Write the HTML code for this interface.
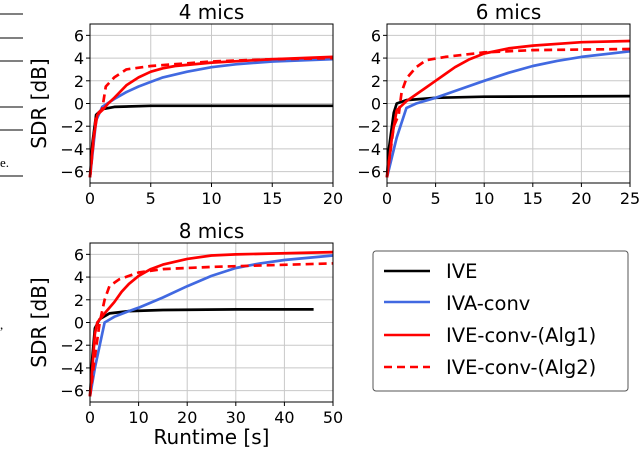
<!DOCTYPE html>
<html><head><meta charset="utf-8"><style>
html,body{margin:0;padding:0;background:#fff;width:640px;height:450px;overflow:hidden}
svg{font-family:"DejaVu Sans","Liberation Sans",sans-serif}
</style></head><body>
<svg id="fig" width="640" height="450" viewBox="0 0 640 450">
<g stroke="#000" stroke-width="1">
<line x1="0" y1="14" x2="23" y2="14"/><line x1="0" y1="38" x2="23" y2="38"/><line x1="0" y1="61" x2="23" y2="61"/>
<line x1="0" y1="107" x2="23" y2="107"/><line x1="0" y1="130" x2="23" y2="130"/><line x1="0" y1="176" x2="23" y2="176"/>
</g>
<text x="0" y="167" font-family="Liberation Serif,serif" font-size="13">e.</text>
<text x="0" y="329" font-family="Liberation Serif,serif" font-size="13">,</text>
<g id="plots"></g>
<g>
<rect x="373" y="251" width="255" height="140" rx="3" fill="#fff" stroke="#555" stroke-width="1"/>
<line x1="384" y1="271" x2="430" y2="271" stroke="#000" stroke-width="2.5"/>
<text x="446" y="278" font-size="19.5">IVE</text>
<line x1="384" y1="302" x2="430" y2="302" stroke="#4169e1" stroke-width="2.5"/>
<text x="446" y="310" font-size="19.5">IVA-conv</text>
<line x1="384" y1="335" x2="430" y2="335" stroke="#ff0000" stroke-width="2.5"/>
<text x="446" y="342" font-size="19.5">IVE-conv-(Alg1)</text>
<line x1="384" y1="367" x2="430" y2="367" stroke="#ff0000" stroke-width="2.5" stroke-dasharray="8,5"/>
<text x="446" y="374" font-size="19.5">IVE-conv-(Alg2)</text>
</g>
</svg>
<script>
const titles = ["4 mics", "6 mics", "8 mics"];
const xMaxes = [20, 25, 50];
const xTicks1 = [0, 5, 10, 15, 20];
const xTicks2 = [0, 5, 10, 15, 20, 25];
const xTicks3 = [0, 10, 20, 30, 40, 50];
const yTicks = [-6, -4, -2, 0, 2, 4, 6];
const seriesNames = ["IVE", "IVA-conv", "IVE-conv-(Alg1)", "IVE-conv-(Alg2)"];
const p1IVE = [[0,-6.5],[0.2,-3.5],[0.5,-1],[1,-0.5],[2,-0.3],[5,-0.2],[20,-0.2]];
const p1IVA = [[0,-6.5],[0.5,-1.5],[1,-0.3],[2,0.4],[3,1.0],[4,1.5],[5,1.9],[6,2.3],[8,2.8],[10,3.2],[12,3.45],[15,3.7],[20,3.9]];
const p1Alg1 = [[0,-6.5],[0.3,-3],[0.6,-1],[1,-0.6],[1.5,0],[2,0.5],[3,1.6],[4,2.3],[5,2.8],[6,3.1],[7,3.3],[10,3.6],[15,3.9],[20,4.1]];
const p1Alg2 = [[0,-6.5],[0.5,-1],[1,-0.5],[1.3,1.5],[2,2.3],[3,3.0],[5,3.3],[10,3.7],[15,3.9],[20,4.0]];
const p2IVE = [[0,-6.5],[0.2,-4],[0.7,-0.8],[1,0],[2,0.3],[5,0.5],[10,0.6],[25,0.65]];
const p2IVA = [[0,-6.5],[1,-3],[2,-0.4],[3,0],[5,0.5],[7,1.1],[10,2.0],[12.5,2.7],[15,3.3],[17.5,3.75],[20,4.1],[25,4.6]];
const p2Alg1 = [[0,-6.5],[0.5,-3],[1,-0.6],[2,0.2],[3,0.8],[4,1.4],[5,2.0],[6,2.6],[7,3.2],[8.5,3.9],[10,4.4],[12.5,4.85],[15,5.1],[20,5.4],[25,5.5]];
const p2Alg2 = [[0,-6.5],[0.7,-2],[1.2,-1],[1.5,1],[2,2.2],[3,3.2],[4,3.8],[6,4.1],[10,4.5],[15,4.7],[25,4.8]];
const p3IVE = [[0,-6.5],[0.5,-3],[1,-0.5],[2,0.3],[4,0.8],[8,1.0],[15,1.1],[30,1.15],[46,1.15]];
const p3IVA = [[0,-6.5],[1,-4],[3,0],[5,0.5],[8,1.0],[10,1.3],[12.5,1.75],[15,2.2],[20,3.2],[25,4.1],[30,4.8],[35,5.2],[40,5.5],[50,5.9]];
const p3Alg1 = [[0,-6.5],[0.5,-4],[1,-1],[1.5,0],[3,0.8],[5,1.8],[6.5,2.7],[8,3.4],[10,4.1],[12.5,4.7],[15,5.1],[20,5.6],[25,5.9],[30,6.0],[50,6.2]];
const p3Alg2 = [[0,-6.5],[1,-3],[2,0],[3,2.0],[4,3.2],[6,3.8],[10,4.4],[15,4.7],[25,4.9],[50,5.2]];

const NS = "http://www.w3.org/2000/svg";
const root = document.getElementById("plots");
function mk(tag, attrs, parent) {
  const e = document.createElementNS(NS, tag);
  for (const k in attrs) e.setAttribute(k, attrs[k]);
  parent.appendChild(e);
  return e;
}
const panels = [
  {L:90, R:333, T:24, B:183, xt:xTicks1, data:[p1IVE,p1IVA,p1Alg1,p1Alg2], ylabel:true, xlabel:false},
  {L:387, R:630, T:24, B:183, xt:xTicks2, data:[p2IVE,p2IVA,p2Alg1,p2Alg2], ylabel:false, xlabel:false},
  {L:90, R:333, T:243, B:402, xt:xTicks3, data:[p3IVE,p3IVA,p3Alg1,p3Alg2], ylabel:true, xlabel:true}
];
const colors = ["#000000", "#4169e1", "#ff0000", "#ff0000"];
panels.forEach((p, i) => {
  const g = mk("g", {}, root);
  
  
  const xs = v => p.L + (v / xMaxes[i]) * (p.R - p.L);
  const ys = v => p.B - ((v + 7) / 14) * (p.B - p.T);
  p.xt.forEach(t => {
    const gl = mk("line", {x1:xs(t), x2:xs(t), y1:p.T, y2:p.B, stroke:"#c8c8c8", "stroke-width":1}, g);
    
    
    mk("line", {x1:xs(t), x2:xs(t), y1:p.B, y2:p.B+4, stroke:"#000", "stroke-width":1}, g);
    const tx = mk("text", {x:xs(t), y:p.B+21, "text-anchor":"middle", "font-size":16}, g);
    tx.textContent = t;
    
    
  });
  yTicks.forEach(t => {
    const gl = mk("line", {x1:p.L, x2:p.R, y1:ys(t), y2:ys(t), stroke:"#c8c8c8", "stroke-width":1}, g);
    
    
    mk("line", {x1:p.L-4, x2:p.L, y1:ys(t), y2:ys(t), stroke:"#000", "stroke-width":1}, g);
    const tx = mk("text", {x:p.L-6, y:ys(t)+6, "text-anchor":"end", "font-size":16}, g);
    tx.textContent = t < 0 ? "\u2212" + (-t) : t;
    
    
  });
  p.data.forEach((d, s) => {
    const pts = d.map(q => xs(q[0]).toFixed(1) + "," + ys(q[1]).toFixed(1)).join(" ");
    const attrs = {points:pts, fill:"none", stroke:colors[s], "stroke-width":2.7, "stroke-linejoin":"round"};
    if (s === 3) attrs["stroke-dasharray"] = "8,5";
    const pl = mk("polyline", attrs, g);
    
    
  });
  const fr = mk("rect", {x:p.L, y:p.T, width:p.R-p.L, height:p.B-p.T, fill:"none", stroke:"#000", "stroke-width":1}, g);
  
  
  const ti = mk("text", {x:(p.L+p.R)/2, y:p.T-5, "text-anchor":"middle", "font-size":20}, g);
  ti.textContent = titles[i];
  
  
  if (p.ylabel) {
    const cy = (p.T + p.B) / 2;
    const yl = mk("text", {x:46, y:cy, "text-anchor":"middle", "font-size":20, transform:"rotate(-90 46 " + cy + ")"}, g);
    yl.textContent = "SDR [dB]";
    
    
  }
  if (p.xlabel) {
    const xl = mk("text", {x:(p.L+p.R)/2, y:444, "text-anchor":"middle", "font-size":20}, g);
    xl.textContent = "Runtime [s]";
    
    
  }
});
</script>
</body></html>
